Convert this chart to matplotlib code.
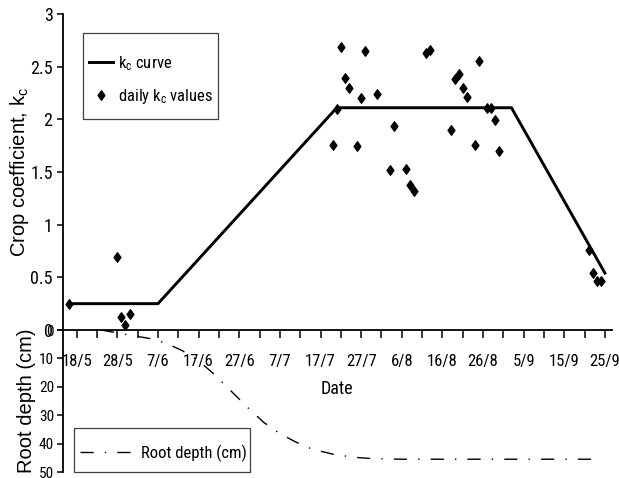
import matplotlib
matplotlib.use("Agg")
import matplotlib.pyplot as plt
import pandas as pd
from matplotlib.path import Path
from matplotlib.lines import Line2D
from matplotlib.patches import Rectangle

NARROW = ["Roboto Condensed", "Liberation Sans", "DejaVu Sans"]
REGULAR = ["Liberation Sans", "DejaVu Sans"]
plt.rcParams["font.family"] = NARROW
plt.rcParams["mathtext.default"] = "regular"

YEAR = 2001

# ── Data ───────────────────────────────────────────────────────
# kc curve break points (day/month)
kc_curve_dates = ["16/5", "7/6", "21/7", "2/9", "25/9"]
kc_curve_values = [0.25, 0.25, 2.11, 2.11, 0.54]

# daily kc values
daily_dates = ["16/5", "28/5", "29/5", "30/5", "31/5",
               "20/7", "21/7", "22/7", "23/7", "24/7", "26/7", "27/7", "28/7", "31/7",
               "3/8", "4/8", "7/8", "8/8", "9/8", "12/8", "13/8",
               "18/8", "19/8", "20/8", "21/8", "22/8", "24/8", "25/8",
               "27/8", "28/8", "29/8", "30/8",
               "21/9", "22/9", "23/9", "24/9"]
daily_kc = [0.25, 0.69, 0.12, 0.05, 0.15,
            1.76, 2.10, 2.69, 2.39, 2.30, 1.75, 2.20, 2.65, 2.24,
            1.52, 1.94, 1.53, 1.38, 1.32, 2.63, 2.66,
            1.90, 2.38, 2.43, 2.30, 2.21, 1.76, 2.55,
            2.11, 2.11, 1.99, 1.70,
            0.76, 0.54, 0.465, 0.465]

# root depth (cm)
root_dates = ["24/5", "28/5", "31/5", "5/6", "9/6", "13/6", "17/6", "21/6",
              "25/6", "29/6", "3/7", "7/7", "11/7", "15/7", "20/7", "25/7",
              "30/7", "6/8", "23/9"]
root_depth = [0, 1.0, 1.8, 3.0, 4.6, 7.3, 10.8, 15.8,
              21.5, 27.2, 32.5, 36.5, 39.5, 42.0, 43.7, 44.8,
              45.3, 45.5, 45.5]

tick_labels = ["18/5", "28/5", "7/6", "17/6", "27/6", "7/7", "17/7",
               "27/7", "6/8", "16/8", "26/8", "5/9", "15/9", "25/9"]


def to_date(s):
    d, m = s.split("/")
    return pd.Timestamp(year=YEAR, month=int(m), day=int(d))


kc_x = [to_date(s) for s in kc_curve_dates]
daily_x = [to_date(s) for s in daily_dates]
root_x = [to_date(s) for s in root_dates]
major_x = [to_date(s) for s in tick_labels]
minor_x = [t + pd.Timedelta(days=5) for t in major_x[:-1]]
x_lo = major_x[0] - pd.Timedelta(hours=81)
x_hi = major_x[-1] + pd.Timedelta(hours=40)

# narrow diamond marker
diamond = Path([(0, 1), (0.72, 0), (0, -1), (-0.72, 0), (0, 1)],
               [Path.MOVETO, Path.LINETO, Path.LINETO, Path.LINETO, Path.CLOSEPOLY])

W, H = 619, 478
fig = plt.figure(figsize=(W / 100, H / 100), dpi=100)

# ── kc panel ───────────────────────────────────────────────────
ax = fig.add_axes([63 / W, 148 / H, 548.7 / W, 316 / H])
ax.plot(kc_x, kc_curve_values, color="black", lw=2.1, zorder=3)
ax.plot(daily_x, daily_kc, ls="none", marker=diamond, ms=6.8,
        color="black", zorder=4)
ax.set_xlim(x_lo, x_hi)
ax.set_ylim(0, 3)
ax.set_yticks([0, 0.5, 1, 1.5, 2, 2.5, 3])
ax.set_yticklabels(["0", "0.5", "1", "1.5", "2", "2.5", "3"])
ax.set_xticks(major_x)
ax.set_xticklabels(tick_labels)
ax.set_xticks(minor_x, minor=True)
for s in ["top", "right"]:
    ax.spines[s].set_visible(False)
for s in ["left", "bottom"]:
    ax.spines[s].set_linewidth(1.3)
ax.tick_params(axis="y", direction="out", length=4.5, width=1.1,
               labelsize=13, pad=3)
ax.tick_params(axis="x", which="both", direction="out", length=5.5,
               width=1.1, labelsize=12, pad=12)
ax.set_ylabel("Crop coefficient, k$_c$", family=REGULAR, fontsize=14.5)
ax.yaxis.set_label_coords(-0.059, 0.5)
ax.set_xlabel("Date", fontsize=13, labelpad=8)
ax.patch.set_alpha(0)

# ── root depth panel ──────────────────────────────────────────
ax_r = fig.add_axes([63 / W, 6 / H, 548.7 / W, 142 / H])
ax_r.plot(root_x, root_depth, color="black", lw=1.0,
          dashes=(9.5, 8, 1, 8))
ax_r.set_xlim(x_lo, x_hi)
ax_r.set_ylim(50, 0)
ax_r.set_yticks([0, 10, 20, 30, 40, 50])
ax_r.xaxis.set_visible(False)
for s in ["top", "right", "bottom"]:
    ax_r.spines[s].set_visible(False)
ax_r.spines["left"].set_linewidth(1.3)
ax_r.tick_params(axis="y", direction="out", length=4.5, width=1.1,
                 labelsize=11, pad=2)
ax_r.set_ylabel("Root depth (cm)", family=REGULAR, fontsize=14.5)
ax_r.yaxis.set_label_coords(-0.050, 0.5)
ax_r.patch.set_alpha(0)

# ── legends ───────────────────────────────────────────────────
kc_handles = [
    Line2D([], [], color="black", lw=2.1),
    Line2D([], [], ls="none", marker=diamond, ms=6.8, color="black"),
]
leg1 = fig.legend(kc_handles, ["k$_c$ curve", "daily k$_c$ values"],
                  loc="upper left", bbox_to_anchor=(89 / W, 1 - 54 / H),
                  frameon=False, fontsize=12, borderpad=0, borderaxespad=0,
                  handlelength=1.45, handletextpad=0.3, labelspacing=0.85)
fig.add_artist(Rectangle((83 / W, 1 - 119 / H), 135 / W, 86 / H,
                         transform=fig.transFigure, fill=False,
                         ec="#404040", lw=0.9))

root_handle = [Line2D([], [], color="black", lw=1.0, dashes=(9.5, 8, 1, 8))]
leg2 = fig.legend(root_handle, ["Root depth (cm)"],
                  loc="center left", bbox_to_anchor=(80 / W, 1 - 453.5 / H),
                  frameon=False, fontsize=12, borderpad=0, borderaxespad=0,
                  handlelength=3.0, handletextpad=0.65)
fig.add_artist(Rectangle((74 / W, 1 - 472 / H), 176 / W, 44 / H,
                         transform=fig.transFigure, fill=False,
                         ec="#404040", lw=0.9))

fig.savefig("out.png", dpi=100)
